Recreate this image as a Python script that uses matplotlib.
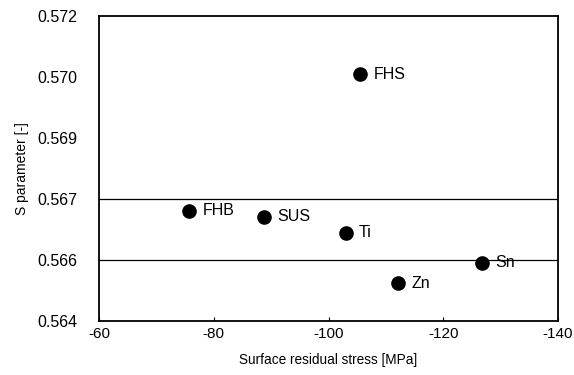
import matplotlib
matplotlib.use("Agg")
import matplotlib.pyplot as plt
import numpy as np

labels = ["FHS", "FHB", "SUS", "Ti", "Sn", "Zn"]
stress = [-105.5, -75.7, -88.8, -103.0, -126.8, -112.2]
s_param = [0.57047, 0.56689, 0.56674, 0.56632, 0.56553, 0.56499]
y_ticks = [0.564, 0.5656, 0.5672, 0.5688, 0.5704, 0.572]
x_ticks = [-60, -80, -100, -120, -140]
grid_y = [0.5656, 0.5672]

plt.rcParams['font.family'] = ['Liberation Sans', 'DejaVu Sans']
fig = plt.figure(figsize=(5.74, 3.75), dpi=100)
ax = fig.add_axes([99/574, 1-321/375, (558-99)/574, (321-16)/375])

for gy in grid_y:
    ax.axhline(gy, color='black', lw=0.9, zorder=1)

ax.plot(stress, s_param, 'o', color='black', markersize=9.5, zorder=3, linestyle='none')
for x, y, t in zip(stress, s_param, labels):
    ax.annotate(t, (x, y), xytext=(9.5, 0), textcoords='offset points',
                va='center', ha='left', fontsize=11.5)

ax.set_xlim(-60, -140)
ax.set_ylim(0.564, 0.572)
ax.set_xticks(x_ticks)
ax.set_xticklabels([str(v) for v in x_ticks])
ax.set_yticks(y_ticks)
ax.set_yticklabels([f"{v:.3f}" for v in y_ticks])
ax.tick_params(axis='x', direction='in', length=3, width=0.8, labelsize=11, pad=4)
ax.tick_params(axis='y', length=0, labelsize=11.5, pad=15.5)
for sp in ax.spines.values():
    sp.set_linewidth(1.3)
ax.set_xlabel("Surface residual stress [MPa]", fontsize=9.8, labelpad=9)
ax.set_ylabel("S parameter [-]", fontsize=10, labelpad=6)

fig.savefig("out.png", dpi=100)
